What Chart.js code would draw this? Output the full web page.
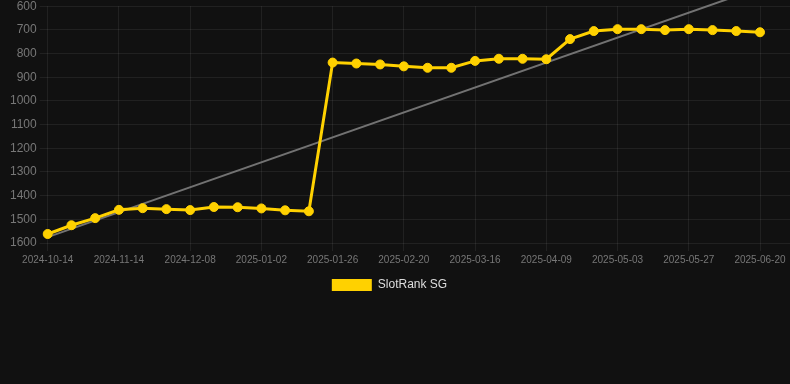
<!DOCTYPE html>
<html>
<head>
<meta charset="utf-8">
<script src="https://cdn.jsdelivr.net/npm/chart.js@4/dist/chart.umd.min.js"></script>
<style>
  html, body { margin: 0; padding: 0; background: #111111; overflow: hidden; }
  #wrap { position: relative; width: 790px; height: 305px; margin-top: -4px; }
</style>
</head>
<body>
<div id="wrap"><canvas id="rankChart"></canvas></div>
<script>
const labels = [
  '2024-10-14', '2024-10-24', '2024-11-04', '2024-11-14', '2024-11-22', '2024-11-30',
  '2024-12-08', '2024-12-16', '2024-12-24', '2025-01-02', '2025-01-10', '2025-01-18',
  '2025-01-26', '2025-02-03', '2025-02-12', '2025-02-20', '2025-02-28', '2025-03-08',
  '2025-03-16', '2025-03-24', '2025-04-01', '2025-04-09', '2025-04-17', '2025-04-25',
  '2025-05-03', '2025-05-11', '2025-05-19', '2025-05-27', '2025-06-04', '2025-06-12',
  '2025-06-20',
];
const rankValues = [
  1562, 1525, 1495, 1460, 1453, 1457, 1461, 1448, 1449, 1454, 1462, 1466,
  838, 842, 846, 854, 860, 860, 831, 822, 822, 824, 739, 705,
  697, 697, 701, 697, 701, 705, 710,
];
const trendEnds = [1575, 522];
const yTicks = { min: 600, max: 1600, step: 100 };

document.addEventListener('DOMContentLoaded', () => {
  const ctx = document.getElementById('rankChart').getContext('2d');
  const gridColor = 'rgba(255,255,255,0.07)';
  const baseLabels = Chart.defaults.plugins.legend.labels.generateLabels;

  // legend sits a little left of the canvas centre
  const legendShift = {
    id: 'legendShift',
    afterLayout(chart) {
      const lg = chart.legend;
      if (lg) {
        lg.left = 0;
        lg.right = 779;
        lg.width = 779;
      }
    },
  };

  new Chart(ctx, {
    type: 'line',
    data: {
      labels,
      datasets: [{
        label: 'SlotRank SG',
        data: rankValues,
        borderColor: '#ffd100',
        backgroundColor: '#ffd100',
        borderWidth: 3,
        pointRadius: 4.5,
        pointBorderWidth: 1,
        pointBackgroundColor: '#ffd100',
        tension: 0,
      },
      {
        label: 'trend',
        data: [
          { x: labels[0], y: trendEnds[0] },
          { x: labels[labels.length - 1], y: trendEnds[1] },
        ],
        borderColor: 'rgba(125,125,125,0.9)',
        borderWidth: 2,
        pointRadius: 0,
        clip: false,
      }],
    },
    options: {
      responsive: true,
      maintainAspectRatio: false,
      animation: false,
      layout: { padding: { left: 7 } },
      scales: {
        x: {
          grid: { color: gridColor, tickColor: gridColor },
          border: { display: false },
          ticks: {
            color: '#777',
            font: { size: 10, family: 'Liberation Sans, Arial, sans-serif' },
            maxRotation: 0,
            autoSkip: true,
            maxTicksLimit: 11,
          },
        },
        y: {
          reverse: true,
          min: yTicks.min,
          max: yTicks.max,
          grid: { color: gridColor, tickColor: gridColor },
          border: { display: false },
          ticks: {
            stepSize: yTicks.step,
            color: '#777',
            font: { size: 12, family: 'Liberation Sans, Arial, sans-serif' },
            callback: (v) => String(v),
          },
        },
        y2: {
          position: 'right',
          reverse: true,
          min: yTicks.min,
          max: yTicks.max,
          grid: { drawOnChartArea: false, tickLength: 30, tickColor: gridColor },
          border: { display: false },
          ticks: { display: false, stepSize: yTicks.step },
        },
      },
      plugins: {
        legend: {
          position: 'bottom',
          labels: {
            color: '#ddd',
            boxWidth: 40,
            boxHeight: 12,
            font: { size: 12, family: 'Liberation Sans, Arial, sans-serif' },
            filter: (item) => item.datasetIndex === 0,
            generateLabels: (chart) => baseLabels(chart).map((item) => ({ ...item, lineWidth: 0 })),
          },
        },
        tooltip: { enabled: false },
      },
    },
    plugins: [legendShift],
  });
});
</script>
</body>
</html>
